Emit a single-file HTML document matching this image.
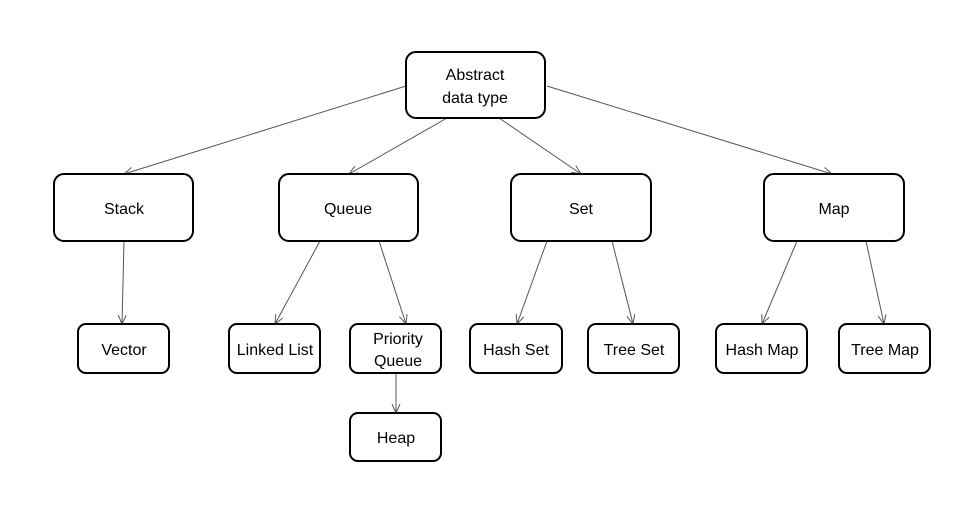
<!DOCTYPE html>
<html><head><meta charset="utf-8"><style>
html,body{margin:0;padding:0;background:#fff;}
svg{display:block;}
text{font-family:"Liberation Sans",sans-serif;font-size:16px;fill:#000;text-anchor:middle;}
rect{fill:#fff;stroke:#000;stroke-width:2;}
line{stroke:#555;stroke-width:1;}
</style></head><body>
<svg width="978" height="512" viewBox="0 0 978 512" xmlns="http://www.w3.org/2000/svg">
<defs>
<marker id="a" markerWidth="12" markerHeight="12" refX="10" refY="5" orient="auto" markerUnits="userSpaceOnUse">
<path d="M1,1 L10,5 L1,9" fill="none" stroke="#555" stroke-width="1"/>
</marker>
</defs>
<g marker-end="url(#a)">
<line x1="406" y1="86" x2="124" y2="174"/>
<line x1="447" y1="118" x2="349" y2="174"/>
<line x1="499" y1="118" x2="581" y2="174"/>
<line x1="547" y1="86" x2="832" y2="174"/>
<line x1="124" y1="241" x2="122" y2="324"/>
<line x1="320" y1="241" x2="275" y2="324"/>
<line x1="379" y1="241" x2="406" y2="324"/>
<line x1="396" y1="373" x2="396" y2="413"/>
<line x1="547" y1="241" x2="517" y2="324"/>
<line x1="612" y1="241" x2="633" y2="324"/>
<line x1="797" y1="241" x2="762" y2="324"/>
<line x1="866" y1="241" x2="884" y2="324"/>
</g>
<rect x="406" y="52" width="139" height="66" rx="10"/>
<text x="475" y="80">Abstract</text><text x="475" y="103">data type</text>
<rect x="54" y="174" width="139" height="67" rx="10"/><text x="124" y="214">Stack</text>
<rect x="279" y="174" width="139" height="67" rx="10"/><text x="348" y="214">Queue</text>
<rect x="511" y="174" width="140" height="67" rx="10"/><text x="581" y="214">Set</text>
<rect x="764" y="174" width="140" height="67" rx="10"/><text x="834" y="214">Map</text>
<rect x="78" y="324" width="91" height="49" rx="8"/><text x="124" y="355">Vector</text>
<rect x="229" y="324" width="91" height="49" rx="8"/><text x="275" y="355">Linked List</text>
<rect x="350" y="324" width="91" height="49" rx="8"/><text x="398" y="344">Priority</text><text x="398" y="366">Queue</text>
<rect x="350" y="413" width="91" height="48" rx="8"/><text x="396" y="443">Heap</text>
<rect x="470" y="324" width="92" height="49" rx="8"/><text x="516" y="355">Hash Set</text>
<rect x="588" y="324" width="91" height="49" rx="8"/><text x="634" y="355">Tree Set</text>
<rect x="716" y="324" width="91" height="49" rx="8"/><text x="762" y="355">Hash Map</text>
<rect x="839" y="324" width="91" height="49" rx="8"/><text x="885" y="355">Tree Map</text>
</svg>
</body></html>
